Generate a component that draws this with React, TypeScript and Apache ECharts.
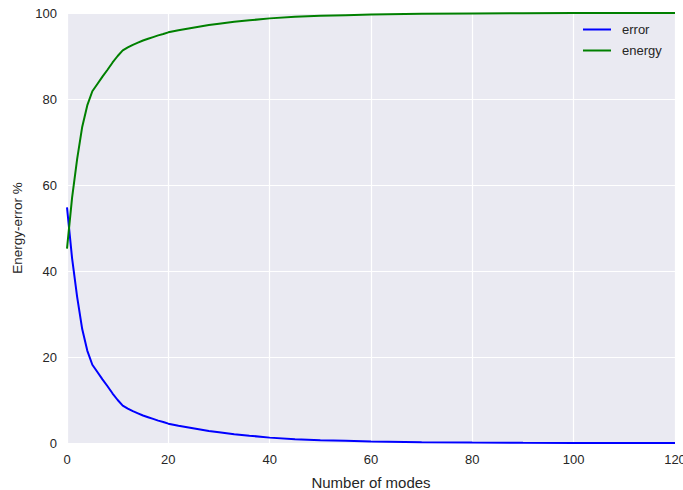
import React, { useEffect, useRef } from "react";
import * as echarts from "echarts";

const modes = [0, 1, 2, 3, 4, 5, 6, 7, 8, 9, 10, 11, 12, 13, 14, 15, 16, 17, 18, 19, 20, 22, 24, 26, 28, 30, 33, 36, 40, 45, 50, 55, 60, 70, 80, 90, 100, 110, 120];
const energyValues = [45.2, 57, 66, 73.5, 78.5, 81.8, 83.5, 85.2, 86.8, 88.5, 90, 91.3, 92, 92.6, 93.1, 93.6, 94, 94.4, 94.8, 95.1, 95.5, 96.0, 96.4, 96.8, 97.2, 97.5, 97.95, 98.3, 98.75, 99.1, 99.35, 99.5, 99.65, 99.82, 99.9, 99.95, 99.98, 99.99, 100];
const errorValues = [54.8, 43, 34, 26.5, 21.5, 18.2, 16.5, 14.8, 13.2, 11.5, 10, 8.7, 8, 7.4, 6.9, 6.4, 6, 5.6, 5.2, 4.9, 4.5, 4.0, 3.6, 3.2, 2.8, 2.5, 2.05, 1.7, 1.25, 0.9, 0.65, 0.5, 0.35, 0.18, 0.1, 0.05, 0.02, 0.01, 0];
const seriesNames = ["error", "energy"];
const xTicks = { min: 0, max: 120, interval: 20 };
const yTicks = { min: 0, max: 100, interval: 20 };

const FONT = "'Liberation Sans', Arial, sans-serif";
const TEXT = "#262626";

export default function App() {
  const ref = useRef<HTMLDivElement>(null);
  useEffect(() => {
    if (!ref.current) return;
    const chart = echarts.init(ref.current, null, { renderer: "svg" });
    chart.setOption({
      animation: false,
      textStyle: { fontFamily: FONT },
      grid: {
        left: 67,
        right: 8,
        top: 13,
        bottom: 47,
        show: true,
        backgroundColor: "#EAEAF2",
        borderWidth: 0,
        outerBoundsMode: "none",
        containLabel: false,
      },
      legend: {
        data: seriesNames,
        orient: "vertical",
        left: 578,
        top: 18,
        itemWidth: 28,
        itemHeight: 2,
        itemGap: 8,
        icon: "rect",
        textStyle: { fontFamily: FONT, fontSize: 13, color: TEXT, padding: [0, 0, 0, 6] },
      },
      xAxis: {
        type: "value",
        min: xTicks.min,
        max: xTicks.max,
        interval: xTicks.interval,
        name: "Number of modes",
        nameLocation: "middle",
        nameGap: 32,
        nameTextStyle: { fontFamily: FONT, fontSize: 15, color: TEXT },
        axisLine: { show: false },
        axisTick: { show: false },
        axisLabel: { fontFamily: FONT, fontSize: 13, color: TEXT, margin: 10 },
        splitLine: { show: true, lineStyle: { color: "#FFFFFF", width: 1.2 } },
      },
      yAxis: {
        type: "value",
        min: yTicks.min,
        max: yTicks.max,
        interval: yTicks.interval,
        name: "Energy-error %",
        nameLocation: "middle",
        nameGap: 41,
        nameTextStyle: { fontFamily: FONT, fontSize: 13.5, color: TEXT },
        axisLine: { show: false },
        axisTick: { show: false },
        axisLabel: { fontFamily: FONT, fontSize: 13, color: TEXT, margin: 10 },
        splitLine: { show: true, lineStyle: { color: "#FFFFFF", width: 1.2 } },
      },
      series: [
        {
          name: seriesNames[0],
          type: "line",
          data: modes.map((m, i) => [m, errorValues[i]]),
          showSymbol: false,
          color: "#0000FF",
          lineStyle: { color: "#0000FF", width: 2 },
          clip: false,
        },
        {
          name: seriesNames[1],
          type: "line",
          data: modes.map((m, i) => [m, energyValues[i]]),
          showSymbol: false,
          color: "#008000",
          lineStyle: { color: "#008000", width: 2 },
          clip: false,
        },
      ],
    });
    return () => chart.dispose();
  }, []);
  return (
    <div
      ref={ref}
      style={{ position: "fixed", left: 0, top: 0, width: 683, height: 490, background: "#FFFFFF" }}
    />
  );
}
